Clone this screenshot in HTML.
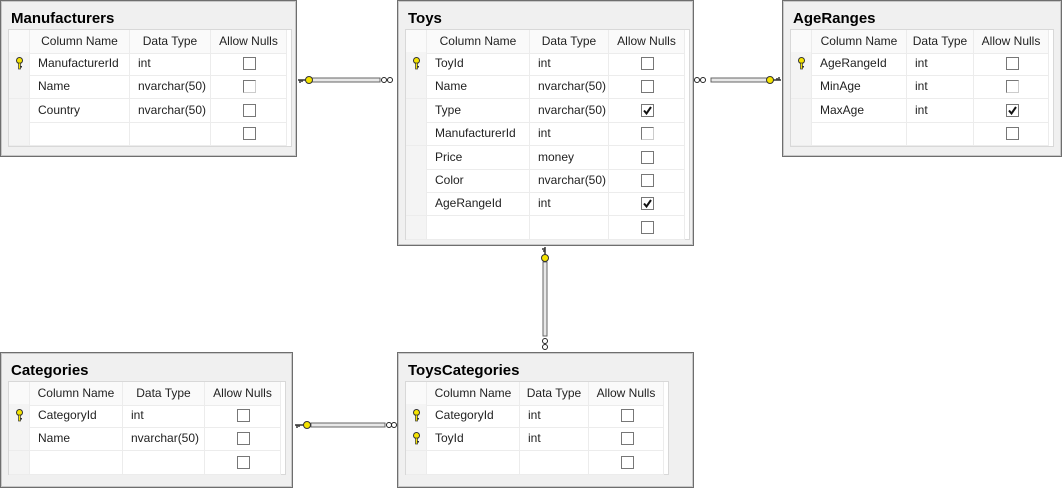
<!DOCTYPE html>
<html><head><meta charset="utf-8">
<style>
body{margin:0;width:1062px;height:489px;background:#fff;position:relative;overflow:hidden;font-family:"Liberation Sans",sans-serif;}
.box{position:absolute;background:#f0f0f0;border:1px solid #6e6e6e;box-shadow:inset 0 0 0 1px #c8c8c8;box-sizing:border-box;}
.title{position:absolute;left:10px;top:9px;font-weight:bold;font-size:15px;color:#000;}
.grid{position:absolute;left:7px;top:28px;background:#fff;border:1px solid #d8d8d8;}
.row{position:absolute;left:0;height:23px;border-bottom:1px solid #ececec;}
.c{position:absolute;top:0;height:23px;line-height:22px;font-size:12px;color:#222;border-right:1px solid #ececec;box-sizing:border-box;padding-left:8px;white-space:nowrap;}
.hdr .c{text-align:center;padding-left:0;background:#fafafa;}
.sel{background:#f4f4f4;}
.cb{position:absolute;width:11px;height:11px;border:1px solid #777;background:#fff;top:5px;}
.key{position:absolute;left:6px;top:5px;width:9px;height:13px;}
</style></head><body>
<div id="root"></div>
<script>
function tbl(name,x,y,w,h,cols,rows){
  var html='<div class="box" style="left:'+x+'px;top:'+y+'px;width:'+w+'px;height:'+h+'px"><div class="title">'+name+'</div>';
  var gw=cols[3]-cols[0];
  var gh=22+rows.length*23.4;
  html+='<div class="grid" style="width:'+(gw+4)+'px;height:'+gh+'px">';
  function cx(i){return cols[i]-cols[0];}
  html+='<div class="row hdr" style="top:0;width:'+gw+'px">'+
   '<div class="c" style="left:0;width:21px"></div>'+
   '<div class="c" style="left:21px;width:'+(cx(1)-21)+'px">Column Name</div>'+
   '<div class="c" style="left:'+cx(1)+'px;width:'+(cx(2)-cx(1))+'px">Data Type</div>'+
   '<div class="c" style="left:'+cx(2)+'px;width:'+(cx(3)-cx(2))+'px">Allow Nulls</div></div>';
  rows.forEach(function(r,i){
    var t=22+i*23.4;
    var k=r[3]?'<svg class="key" viewBox="0 0 9 13"><circle cx="4.5" cy="3.5" r="3" fill="#f5e400" stroke="#333" stroke-width="1"/><rect x="3.5" y="6" width="2" height="6" fill="#f5e400" stroke="#333" stroke-width=".7"/><rect x="5" y="9" width="2" height="1.5" fill="#333"/></svg>':'';
    var cbx=cx(2)+Math.round((cx(3)-cx(2))/2)-6;
    html+='<div class="row" style="top:'+t+'px;width:'+gw+'px">'+
     '<div class="c sel" style="left:0;width:21px">'+k+'</div>'+
     '<div class="c" style="left:21px;width:'+(cx(1)-21)+'px">'+r[0]+'</div>'+
     '<div class="c" style="left:'+cx(1)+'px;width:'+(cx(2)-cx(1))+'px">'+r[1]+'</div>'+
     '<div class="c" style="left:'+cx(2)+'px;width:'+(cx(3)-cx(2))+'px"><div class="cb" style="left:'+(cbx-cx(2))+'px;'+(r[2]==2?'border-color:#ccc;border-top-color:#777;border-left-color:#777':'')+'">'+(r[2]==1?'<svg width="11" height="11" style="position:absolute;left:0;top:0"><path d="M2 5.5 L4.5 8.5 L9 2" stroke="#111" stroke-width="2" fill="none"/></svg>':'')+'</div></div></div>';
  });
  html+='</div></div>';
  return html;
}
var h='';
h+=tbl('Manufacturers',0,0,297,157,[7,128,209,285],[['ManufacturerId','int',0,1],['Name','nvarchar(50)',2],['Country','nvarchar(50)',0],['','',0]]);
h+=tbl('Toys',397,0,297,246,[404,528,607,683],[['ToyId','int',0,1],['Name','nvarchar(50)',0],['Type','nvarchar(50)',1],['ManufacturerId','int',2],['Price','money',0],['Color','nvarchar(50)',0],['AgeRangeId','int',1],['','',0]]);
h+=tbl('AgeRanges',782,0,280,157,[789,905,972,1047],[['AgeRangeId','int',0,1],['MinAge','int',2],['MaxAge','int',1],['','',0]]);
h+=tbl('Categories',0,352,293,136,[7,121,203,279],[['CategoryId','int',0,1],['Name','nvarchar(50)',0],['','',0]]);
h+=tbl('ToysCategories',397,352,297,136,[404,518,587,662],[['CategoryId','int',0,1],['ToyId','int',0,1],['','',0]]);
document.getElementById('root').innerHTML=h;
</script>
<svg width="1062" height="489" style="position:absolute;left:0;top:0" >
<g fill="none">
 <!-- Manufacturers - Toys -->
 <rect x="310" y="78" width="70" height="4" fill="#e8e8e8" stroke="#666" stroke-width="1"/>
 <circle cx="309" cy="80" r="3.5" fill="#f5e400" stroke="#333"/>
 <path d="M298 80 H306 M300 80 V83 M302 80 V82" stroke="#333" stroke-width="1.5"/>
 <circle cx="384" cy="80" r="2.5" fill="#fff" stroke="#222"/><circle cx="390" cy="80" r="2.5" fill="#fff" stroke="#222"/>
 <!-- Toys - AgeRanges -->
 <rect x="711" y="78" width="57" height="4" fill="#e8e8e8" stroke="#666" stroke-width="1"/>
 <circle cx="770" cy="80" r="3.5" fill="#f5e400" stroke="#333"/>
 <path d="M773 80 H781 M779 80 V77 M777 80 V78" stroke="#333" stroke-width="1.5"/>
 <circle cx="697" cy="80" r="2.5" fill="#fff" stroke="#222"/><circle cx="703" cy="80" r="2.5" fill="#fff" stroke="#222"/>
 <!-- Toys - ToysCategories -->
 <rect x="543" y="262" width="4" height="74" fill="#e8e8e8" stroke="#666" stroke-width="1"/>
 <circle cx="545" cy="258" r="3.5" fill="#f5e400" stroke="#333"/>
 <path d="M545 247 V255 M545 249 H542 M545 251 H543" stroke="#333" stroke-width="1.5"/>
 <circle cx="545" cy="341" r="2.5" fill="#fff" stroke="#222"/><circle cx="545" cy="347" r="2.5" fill="#fff" stroke="#222"/>
 <!-- Categories - ToysCategories -->
 <rect x="311" y="423" width="74" height="4" fill="#e8e8e8" stroke="#666" stroke-width="1"/>
 <circle cx="307" cy="425" r="3.5" fill="#f5e400" stroke="#333"/>
 <path d="M295 425 H304 M297 425 V428 M299 425 V427" stroke="#333" stroke-width="1.5"/>
 <circle cx="389" cy="425" r="2.5" fill="#fff" stroke="#222"/><circle cx="394" cy="425" r="2.5" fill="#fff" stroke="#222"/>
</g>
</svg>
</body></html>
